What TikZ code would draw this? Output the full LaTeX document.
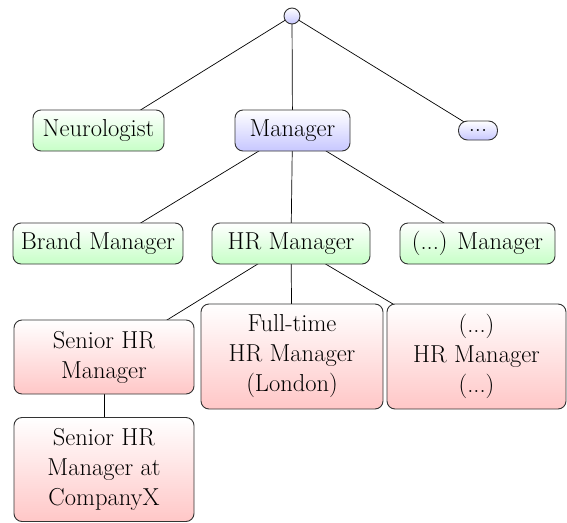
\documentclass[tikz,border=0pt]{standalone}
\usetikzlibrary{backgrounds}
\begin{document}
\begin{tikzpicture}[x=1pt,y=-1pt,
  font=\fontsize{24.5}{30}\selectfont,
  box/.style={draw=black!80, line width=0.9pt, rounded corners=8pt, align=center, inner sep=0pt},
  gbox/.style={box, top color=white, bottom color=green!22},
  bbox/.style={box, top color=white, bottom color=blue!22},
  rbox/.style={box, top color=white, bottom color=red!22},
  link/.style={line width=0.7pt, black}]
\useasboundingbox (0,0) rectangle (567,522);
\node[circle, draw=black!80, line width=0.9pt, top color=white, bottom color=blue!22, minimum size=16pt, inner sep=0pt] (root) at (292,16) {};
\node[gbox, minimum width=131pt, minimum height=41pt] (neuro) at (98.5,130.5) {Neurologist};
\node[bbox, minimum width=115pt, minimum height=41pt] (mgr) at (292.5,130.5) {Manager};
\node[bbox, minimum width=39pt, minimum height=19pt, rounded corners=9pt] (dots) at (478,130.5) {...};
\node[gbox, minimum width=170pt, minimum height=41pt] (brand) at (98,243.5) {Brand Manager};
\node[gbox, minimum width=158pt, minimum height=41pt] (hr) at (291,243.5) {HR Manager};
\node[gbox, minimum width=155pt, minimum height=41pt] (omgr) at (477.5,243.5) {(...) Manager};
\node[rbox, minimum width=180pt, minimum height=74pt] (sen) at (104,357) {Senior HR\\Manager};
\node[rbox, minimum width=182pt, minimum height=105pt] (ft) at (292,356.5) {Full-time\\HR Manager\\(London)};
\node[rbox, minimum width=179pt, minimum height=105pt] (ohr) at (476.5,356.5) {(...)\\HR Manager\\(...)};
\node[rbox, minimum width=180pt, minimum height=104pt] (senx) at (104,469.5) {Senior HR\\Manager at\\CompanyX};
\begin{scope}[on background layer]
\draw[link] (root.center) -- ([xshift=9pt]neuro.center);
\draw[link] (root.center) -- (mgr.center);
\draw[link] (root.center) -- (dots.center);
\draw[link] (mgr.center) -- ([xshift=9pt]brand.center);
\draw[link] (mgr.center) -- (hr.center);
\draw[link] (mgr.center) -- (omgr.center);
\draw[link] (hr.center) -- ([xshift=3pt]sen.center);
\draw[link] (hr.center) -- (ft.center);
\draw[link] (hr.center) -- ([xshift=5pt]ohr.center);
\draw[link] (sen.center) -- (senx.center);
\end{scope}
\end{tikzpicture}
\end{document}
